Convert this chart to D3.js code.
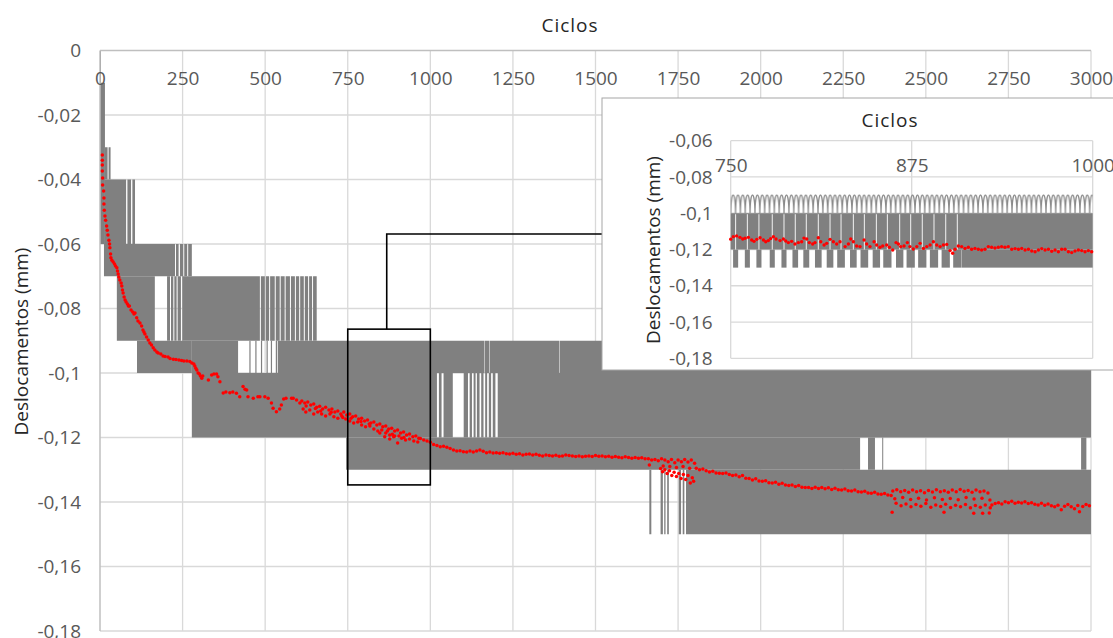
<!DOCTYPE html>
<html>
<head>
<meta charset="utf-8">
<script src="https://cdn.jsdelivr.net/npm/d3@7"></script>
<style>
  html, body { margin: 0; padding: 0; background: #fff; }
  svg { display: block; font-family: "Open Sans", Lato, sans-serif; }
</style>
</head>
<body>
<svg id="chart" width="1113" height="638"></svg>
<script>
// ---------------- tick values ----------------
const cycleTicks = [0, 250, 500, 750, 1000, 1250, 1500, 1750, 2000, 2250, 2500, 2750, 3000];
const displacementTicks = [0, -0.02, -0.04, -0.06, -0.08, -0.1, -0.12, -0.14, -0.16, -0.18];
const detailCycleTicks = [750, 875, 1000];
const detailDisplacementTicks = [-0.06, -0.08, -0.1, -0.12, -0.14, -0.16, -0.18];

// ---------------- raw LVDT trace (quantised to 0.01 mm) ----------------
// envelope swept by the oscillating signal: [first cycle, last cycle, upper level, lower level]
const traceBands = [
  [0, 3, 0, -0.01],
  [0, 15, -0.01, -0.06],
  [15, 32, -0.03, -0.04],
  [15, 106, -0.04, -0.06],
  [12, 278, -0.06, -0.07],
  [51, 656, -0.07, -0.09],
  [112, 278, -0.09, -0.10],
  [278, 3000, -0.09, -0.12],
  [745, 3000, -0.12, -0.13],
  [1663, 3000, -0.13, -0.15]
];
// stretches inside an envelope that the signal did not reach
const traceHoles = [
  [23, 26, -0.03, -0.04],
  [79, 83, -0.04, -0.06], [94, 98, -0.04, -0.06],
  [227, 230, -0.06, -0.07], [238, 242, -0.06, -0.07], [252, 255, -0.06, -0.07], [264, 267, -0.06, -0.07],
  [166, 203, -0.07, -0.09], [212, 215, -0.07, -0.09], [222, 225, -0.07, -0.09], [232, 235, -0.07, -0.09], [245, 249, -0.07, -0.09],
  [484, 487, -0.07, -0.09], [499, 502, -0.07, -0.09], [512, 515, -0.07, -0.09], [529, 532, -0.07, -0.09],
  [544, 547, -0.07, -0.09], [559, 562, -0.07, -0.09], [575, 578, -0.07, -0.09], [590, 593, -0.07, -0.09],
  [603, 606, -0.07, -0.09], [617, 620, -0.07, -0.09], [630, 633, -0.07, -0.09], [642, 645, -0.07, -0.09],
  [418, 538, -0.09, -0.10], [1164, 1165.5, -0.09, -0.10], [1178, 1179.5, -0.09, -0.10], [1390, 1391.5, -0.09, -0.10],
  [1020, 1026, -0.10, -0.12], [1034, 1040, -0.10, -0.12], [1068, 1101, -0.10, -0.12], [1114, 1119, -0.10, -0.12],
  [1126, 1131, -0.10, -0.12], [1137, 1141, -0.10, -0.12], [1149, 1154, -0.10, -0.12], [1161, 1166, -0.10, -0.12],
  [1172, 1177, -0.10, -0.12], [1184, 1189, -0.10, -0.12], [1197, 1204, -0.10, -0.12],
  [2301, 2325, -0.12, -0.13], [2346, 2368, -0.12, -0.13], [2371, 2970, -0.12, -0.13], [2986, 3000, -0.12, -0.13],
  [1669, 1697, -0.13, -0.15], [1704, 1708, -0.13, -0.15], [1712, 1717, -0.13, -0.15],
  [1722, 1752, -0.13, -0.15], [1759, 1764, -0.13, -0.15], [1769, 1774, -0.13, -0.15]
];
// single excursions crossing an unreached stretch: [cycle, upper level, lower level]
const traceStrokes = [
  [454, -0.09, -0.10], [472, -0.09, -0.10], [489, -0.09, -0.10],
  [506, -0.09, -0.10], [519, -0.09, -0.10], [534, -0.09, -0.10]
];

// ---------------- mean displacement per cycle [cycle, mm] ----------------
const meanEarly = [
  [7,-0.0324],[7,-0.0340],[7,-0.0355],[7,-0.0374],[8,-0.0395],[8,-0.0417],[11,-0.0436],[12,-0.0457],
  [12,-0.0476],[13,-0.0495],[15,-0.0513],[17,-0.0526],[20,-0.0544],[22,-0.0557],[24,-0.0572],[27,-0.0588],
  [29,-0.0600],[30,-0.0612],[32,-0.0631],[33,-0.0643],[36,-0.0650],[40,-0.0656],[44,-0.0662],[47,-0.0668],
  [51,-0.0674],[53,-0.0684],[55,-0.0693],[57,-0.0702],[60,-0.0712],[64,-0.0721],[66,-0.0730],[68,-0.0743],
  [70,-0.0752],[73,-0.0764],[76,-0.0774],[79,-0.0780],[83,-0.0786],[86,-0.0792],[89,-0.0792],[94,-0.0805],
  [99,-0.0811],[103,-0.0817],[106,-0.0814],[111,-0.0829],[115,-0.0839],[121,-0.0845],[126,-0.0854],[130,-0.0867],
  [133,-0.0873],[136,-0.0879],[141,-0.0888],[146,-0.0898],[151,-0.0907],[156,-0.0913],[161,-0.0922],[166,-0.0929],
  [172,-0.0935],[176,-0.0938],[184,-0.0941],[191,-0.0947],[197,-0.0949],[206,-0.0950],[212,-0.0955],[222,-0.0957],
  [230,-0.0958],[239,-0.0960],[247,-0.0961],[254,-0.0963],[263,-0.0963],[272,-0.0964],[278,-0.0969],[284,-0.0972],
  [287,-0.0978],[290,-0.0985],[293,-0.0991],[297,-0.1000],[301,-0.1003],[304,-0.1009],[308,-0.1016],[311,-0.1009],
  [328,-0.1022],[338,-0.1006],[345,-0.1003],[353,-0.1003],[357,-0.1012],[363,-0.1027],[373,-0.1062],[381,-0.1059],
  [393,-0.1061],[402,-0.1059],[413,-0.1063],[423,-0.1074],[433,-0.1042],[439,-0.1050],[444,-0.1053],[448,-0.1074],
  [464,-0.1078],[478,-0.1074],[484,-0.1074],[499,-0.1074],[509,-0.1078],[519,-0.1093],[524,-0.1109],[534,-0.1120],
  [544,-0.1112],[549,-0.1099],[556,-0.1081],[563,-0.1078],[580,-0.1078],[585,-0.1078],[595,-0.1084],[605,-0.1093]
];
const meanUpper = [
  [611,-0.1087],[620,-0.1093],[629,-0.1090],[638,-0.1099],[647,-0.1096],[656,-0.1106],[665,-0.1103],[674,-0.1112],
  [683,-0.1106],[693,-0.1115],[702,-0.1112],[711,-0.1121],[720,-0.1118],[729,-0.1127],[738,-0.1121],[747,-0.1130],
  [756,-0.1127],[765,-0.1136],[774,-0.1133],[783,-0.1143],[792,-0.1140],[801,-0.1149],[810,-0.1146],[820,-0.1155],
  [829,-0.1152],[838,-0.1161],[847,-0.1158],[856,-0.1167],[865,-0.1164],[874,-0.1174],[883,-0.1171],[892,-0.1180],
  [901,-0.1177],[910,-0.1186],[919,-0.1183],[928,-0.1192],[937,-0.1189],[947,-0.1198],[956,-0.1195],[965,-0.1202]
];
const meanLower = [
  [615,-0.1112],[623,-0.1121],[635,-0.1115],[647,-0.1127],[659,-0.1121],[671,-0.1127],[683,-0.1133],[696,-0.1127],
  [708,-0.1136],[720,-0.1140],[732,-0.1133],[744,-0.1143],[756,-0.1149],[768,-0.1155],[780,-0.1152],[792,-0.1161],
  [804,-0.1167],[817,-0.1164],[829,-0.1174],[841,-0.1180],[853,-0.1177],[865,-0.1186],[877,-0.1192],[889,-0.1198],
  [901,-0.1217],[913,-0.1202],[925,-0.1208],[937,-0.1205],[950,-0.1211],[962,-0.1214],
  [624,-0.1102],[652,-0.1110],[668,-0.1118],[700,-0.1122],[735,-0.1138],[760,-0.1140],[790,-0.1150],[815,-0.1158],
  [847,-0.1186],[862,-0.1198],[870,-0.1180],[877,-0.1205],[885,-0.1190],[892,-0.1195],[905,-0.1195],[920,-0.1200]
];
const meanMiddle = [
  [970,-0.1203],[980,-0.1208],[990,-0.1211],[1000,-0.1215],[1010,-0.1222],[1020,-0.1225],[1030,-0.1229],[1040,-0.1227],
  [1050,-0.1230],[1060,-0.1234],[1070,-0.1239],[1080,-0.1242],[1090,-0.1241],[1100,-0.1244],[1110,-0.1245],[1120,-0.1242],
  [1130,-0.1245],[1140,-0.1242],[1150,-0.1239],[1160,-0.1243],[1170,-0.1247],[1180,-0.1245],[1190,-0.1248],[1200,-0.1247],
  [1210,-0.1249],[1220,-0.1247],[1230,-0.1250],[1240,-0.1251],[1250,-0.1249],[1260,-0.1252],[1270,-0.1250],[1280,-0.1254],
  [1290,-0.1252],[1300,-0.1251],[1310,-0.1254],[1320,-0.1252],[1330,-0.1255],[1340,-0.1257],[1350,-0.1254],[1360,-0.1256],
  [1370,-0.1257],[1380,-0.1255],[1390,-0.1258],[1400,-0.1257],[1410,-0.1254],[1420,-0.1256],[1430,-0.1257],[1440,-0.1259],
  [1450,-0.1257],[1460,-0.1260],[1470,-0.1258],[1480,-0.1257],[1490,-0.1259],[1500,-0.1256],[1510,-0.1258],[1520,-0.1257],
  [1530,-0.1260],[1540,-0.1258],[1550,-0.1261],[1560,-0.1259],[1570,-0.1261],[1580,-0.1263],[1590,-0.1260],[1600,-0.1262],
  [1610,-0.1264],[1620,-0.1262],[1630,-0.1264],[1640,-0.1263],[1650,-0.1266],[1660,-0.1266],[1670,-0.1270]
];
const meanShift = [
  [1680,-0.1268],[1690,-0.1272],[1700,-0.1266],[1710,-0.1270],[1720,-0.1275],[1730,-0.1268],[1740,-0.1278],[1750,-0.1270],
  [1760,-0.1275],[1770,-0.1268],[1780,-0.1276],[1790,-0.1270],[1800,-0.1280],
  [1663,-0.1285],[1697,-0.1296],[1703,-0.1306],[1710,-0.1300],[1717,-0.1312],[1724,-0.1303],[1731,-0.1318],[1738,-0.1308],
  [1745,-0.1321],[1752,-0.1312],[1759,-0.1327],[1766,-0.1315],[1773,-0.1330],[1780,-0.1318],[1787,-0.1341],[1793,-0.1325],
  [1797,-0.1336],[1705,-0.1288],[1725,-0.1290],[1745,-0.1293],[1765,-0.1290],[1785,-0.1295]
];
const meanLate = [
  [1805,-0.1295],[1815,-0.1300],[1825,-0.1298],[1835,-0.1303],[1845,-0.1307],[1855,-0.1305],[1865,-0.1310],[1875,-0.1311],
  [1885,-0.1312],[1895,-0.1310],[1905,-0.1315],[1915,-0.1318],[1925,-0.1316],[1935,-0.1322],[1945,-0.1318],[1955,-0.1326],
  [1965,-0.1327],[1975,-0.1332],[1985,-0.1328],[1995,-0.1335],[2005,-0.1336],[2015,-0.1334],[2025,-0.1340],[2035,-0.1341],
  [2045,-0.1339],[2055,-0.1345],[2065,-0.1342],[2075,-0.1347],[2085,-0.1349],[2095,-0.1347],[2105,-0.1352],[2115,-0.1349],
  [2125,-0.1354],[2135,-0.1355],[2145,-0.1355],[2155,-0.1358],[2165,-0.1354],[2175,-0.1358],[2185,-0.1355],[2195,-0.1359],
  [2205,-0.1356],[2215,-0.1361],[2225,-0.1357],[2235,-0.1362],[2245,-0.1363],[2255,-0.1360],[2265,-0.1365],[2275,-0.1366],
  [2285,-0.1363],[2295,-0.1368],[2305,-0.1369],[2315,-0.1367],[2325,-0.1372],[2335,-0.1373],[2345,-0.1370],[2355,-0.1375],
  [2365,-0.1376],[2375,-0.1374],[2385,-0.1378],[2395,-0.1380]
];
const meanPlateau = [
  [2400,-0.1366],[2412,-0.1362],[2424,-0.1368],[2436,-0.1364],[2448,-0.1370],[2460,-0.1363],[2472,-0.1368],[2484,-0.1365],
  [2496,-0.1371],[2508,-0.1364],[2520,-0.1369],[2532,-0.1362],[2544,-0.1368],[2556,-0.1365],[2568,-0.1370],[2580,-0.1363],
  [2592,-0.1368],[2604,-0.1361],[2616,-0.1367],[2628,-0.1364],[2640,-0.1370],[2652,-0.1363],[2664,-0.1368],[2676,-0.1366],
  [2688,-0.1372],
  [2406,-0.1390],[2430,-0.1386],[2454,-0.1392],[2478,-0.1388],[2502,-0.1394],[2526,-0.1387],[2550,-0.1392],[2574,-0.1389],
  [2598,-0.1393],[2622,-0.1386],[2646,-0.1391],[2670,-0.1388],[2694,-0.1394],
  [2398,-0.1432],[2410,-0.1404],[2425,-0.1412],[2440,-0.1406],[2455,-0.1415],[2470,-0.1408],[2485,-0.1413],[2500,-0.1405],
  [2515,-0.1416],[2530,-0.1409],[2545,-0.1414],[2555,-0.1432],[2560,-0.1407],[2575,-0.1417],[2590,-0.1410],[2605,-0.1415],
  [2620,-0.1408],[2635,-0.1418],[2645,-0.1435],[2650,-0.1411],[2665,-0.1416],[2672,-0.1435],[2680,-0.1409],[2692,-0.1434],
  [2695,-0.1418]
];
const meanEnd = [
  [2700,-0.1409],[2710,-0.1405],[2720,-0.1402],[2730,-0.1406],[2740,-0.1399],[2750,-0.1402],[2760,-0.1398],[2770,-0.1404],
  [2780,-0.1401],[2790,-0.1403],[2800,-0.1399],[2810,-0.1405],[2820,-0.1402],[2830,-0.1407],[2840,-0.1409],[2850,-0.1404],
  [2860,-0.1410],[2870,-0.1406],[2880,-0.1412],[2890,-0.1415],[2900,-0.1410],[2910,-0.1424],[2920,-0.1413],[2930,-0.1408],
  [2940,-0.1415],[2950,-0.1421],[2960,-0.1411],[2965,-0.1430],[2975,-0.1414],[2985,-0.1408],[2995,-0.1412]
];

// ---------------- detail window 750-1000 cycles ----------------
const detailBands = [[750, 1000, -0.10, -0.12], [909.5, 1000, -0.12, -0.13]];
const detailCrestBand = [750, 1000, -0.09, -0.10];
const crestPeriod = 3.35; // cycles between successive crests of the trace
const detailDips = [753.4, 761.5, 769.5, 778.7, 786.8, 794.6, 802.2, 810.5, 818.6, 826.2,
                    834.7, 842.3, 850.6, 858.2, 866.7, 874.3, 882.3, 890.4, 898.5, 906.5];
const detailDipWidths = [3.5, 3.5, 3.5, 3.5, 3.5, 3.9, 4.1, 4.6, 4.6, 5.3,
                         4.6, 5.3, 5.1, 5.7, 5.1, 5.7, 5.7, 5.7, 5.7, 5.7];
const detailDipLevels = [-0.12, -0.13];
const detailMean = [
  [750.0,-0.1143],[751.8,-0.1129],[754.1,-0.1125],[756.4,-0.1133],[758.3,-0.1142],[759.9,-0.1138],[762.2,-0.1133],[764.5,-0.1148],
  [766.1,-0.1155],[768.0,-0.1144],[770.3,-0.1135],[772.6,-0.1148],[774.2,-0.1157],[776.0,-0.1151],[777.6,-0.1140],[779.5,-0.1129],
  [781.3,-0.1142],[784.1,-0.1151],[786.4,-0.1142],[788.0,-0.1153],[789.8,-0.1162],[792.1,-0.1155],[794.4,-0.1170],[796.7,-0.1162],
  [799.0,-0.1157],[800.6,-0.1137],[802.5,-0.1142],[804.3,-0.1162],[806.6,-0.1170],[808.2,-0.1162],[810.5,-0.1135],[812.2,-0.1157],
  [814.5,-0.1175],[816.3,-0.1166],[818.6,-0.1144],[820.9,-0.1157],[823.2,-0.1170],[825.5,-0.1157],[829.0,-0.1184],[831.3,-0.1170],
  [832.9,-0.1142],[834.7,-0.1157],[837.0,-0.1181],[839.3,-0.1184],[842.1,-0.1148],[843.9,-0.1170],[846.2,-0.1184],[849.0,-0.1157],
  [850.8,-0.1175],[853.1,-0.1188],[855.0,-0.1181],[857.7,-0.1175],[859.6,-0.1188],[861.9,-0.1203],[864.2,-0.1162],[865.8,-0.1170],
  [867.4,-0.1184],[869.7,-0.1181],[872.0,-0.1162],[873.8,-0.1184],[876.1,-0.1197],[878.5,-0.1184],[880.8,-0.1166],[883.1,-0.1194],
  [885.4,-0.1184],[887.7,-0.1175],[890.0,-0.1157],[892.3,-0.1175],[894.6,-0.1184],[896.9,-0.1175],[899.2,-0.1172],[901.5,-0.1206],
  [903.3,-0.1221],[904.9,-0.1199],[907.2,-0.1181],[909.5,-0.1184],[911.8,-0.1194],[914.1,-0.1188],[916.4,-0.1199],[918.7,-0.1194],
  [921.0,-0.1199],[923.3,-0.1203],[925.6,-0.1199],[927.9,-0.1184],[930.2,-0.1188],[932.5,-0.1192],[934.8,-0.1188],[937.1,-0.1184],
  [939.4,-0.1188],[941.7,-0.1184],[944.1,-0.1199],[946.4,-0.1195],[948.7,-0.1199],[951.0,-0.1194],[953.3,-0.1203],[955.6,-0.1199],
  [957.9,-0.1208],[960.2,-0.1212],[962.5,-0.1203],[964.8,-0.1195],[967.1,-0.1203],[969.4,-0.1199],[971.7,-0.1210],[974.0,-0.1203],
  [976.3,-0.1212],[978.6,-0.1199],[980.9,-0.1199],[983.2,-0.1212],[985.5,-0.1217],[987.8,-0.1208],[990.1,-0.1203],[992.4,-0.1206],
  [994.7,-0.1212],[997.0,-0.1206],[999.3,-0.1212]
];

// window marked on the main plot and its leader line
const windowCycles = [750, 1000];
const windowLevels = [-0.0864, -0.1347];
const leaderCycle = 868;
const leaderLevel = -0.0569;

// ---------------- drawing ----------------
const TRACE = "#808080", MEAN = "#ff0000", GRID = "#d9d9d9", AXIS = "#bfbfbf";
const TICK_TXT = "#595959", TITLE_TXT = "#262626", FS = 19;
const FONT = "'Open Sans', Lato, sans-serif";

const svg = d3.select("#chart");
const locale = d3.formatLocale({ decimal: ",", thousands: ".", grouping: [3], currency: ["", ""], minus: "-" });
const fmtMm = locale.format(".2~f");

const x = d3.scaleLinear().domain([0, 3000]).range([100, 1091]);
const y = d3.scaleLinear().domain([0, -0.18]).range([50.5, 631]);

// grid
const grid = svg.append("g").attr("stroke", GRID).attr("stroke-width", 1.3);
grid.selectAll(null).data(cycleTicks.slice(1)).join("line")
  .attr("x1", d => x(d)).attr("x2", d => x(d)).attr("y1", y(0)).attr("y2", y(-0.18));
grid.selectAll(null).data(displacementTicks.slice(1)).join("line")
  .attr("x1", x(0)).attr("x2", x(3000)).attr("y1", d => y(d)).attr("y2", d => y(d));

// trace envelope with the unreached stretches cut out
function envelopePath(xs, ys, band, holes) {
  const p = d3.path();
  const add = (c0, c1, top, bot) => p.rect(xs(c0), ys(top), xs(c1) - xs(c0), ys(bot) - ys(top));
  add(...band);
  holes.filter(h => h[0] >= band[0] && h[1] <= band[1] && h[2] <= band[2] && h[3] >= band[3])
       .forEach(h => add(...h));
  return p.toString();
}
const traceG = svg.append("g").attr("fill", TRACE);
traceG.selectAll("path").data(traceBands).join("path")
  .attr("fill-rule", "evenodd")
  .attr("d", b => envelopePath(x, y, b, traceHoles));
svg.append("g").attr("stroke", TRACE).attr("stroke-width", 1.2)
  .selectAll("line").data(traceStrokes).join("line")
  .attr("x1", d => x(d[0])).attr("x2", d => x(d[0])).attr("y1", d => y(d[1])).attr("y2", d => y(d[2]));

// axis lines
svg.append("line").attr("x1", x(0)).attr("x2", x(3000)).attr("y1", y(0)).attr("y2", y(0))
  .attr("stroke", AXIS).attr("stroke-width", 1.5);
svg.append("line").attr("x1", x(0)).attr("x2", x(0)).attr("y1", y(0)).attr("y2", y(-0.18))
  .attr("stroke", AXIS).attr("stroke-width", 1.5);

// mean displacement markers
const meanAll = [].concat(meanEarly, meanUpper, meanLower, meanMiddle, meanShift, meanLate, meanPlateau, meanEnd);
svg.append("g").attr("fill", MEAN).selectAll("circle").data(meanAll).join("circle")
  .attr("cx", d => x(d[0])).attr("cy", d => y(d[1])).attr("r", 1.75);

// tick labels
const xAxis = svg.append("g").attr("transform", `translate(0,${y(0)})`)
  .call(d3.axisBottom(x).tickValues(cycleTicks).tickSize(0).tickPadding(21).tickFormat(d3.format("d")));
const yAxis = svg.append("g").attr("transform", `translate(${x(0)},0)`)
  .call(d3.axisLeft(y).tickValues(displacementTicks).tickSize(0).tickPadding(19).tickFormat(fmtMm));
[xAxis, yAxis].forEach(a => {
  a.select(".domain").remove();
  a.selectAll("text").attr("fill", TICK_TXT).attr("font-size", FS).attr("font-family", FONT);
});

// titles
svg.append("text").attr("x", 570).attr("y", 32).attr("text-anchor", "middle").attr("letter-spacing", 1)
  .attr("font-size", FS).attr("fill", TITLE_TXT).text("Ciclos");
svg.append("text").attr("transform", "translate(28,341.5) rotate(-90)").attr("text-anchor", "middle")
  .attr("font-size", FS).attr("fill", TITLE_TXT).text("Deslocamentos (mm)");

// window and leader line
const panel = { left: 602, top: 98, width: 530, height: 272 };
svg.append("rect")
  .attr("x", x(windowCycles[0])).attr("y", y(windowLevels[0]))
  .attr("width", x(windowCycles[1]) - x(windowCycles[0])).attr("height", y(windowLevels[1]) - y(windowLevels[0]))
  .attr("fill", "none").attr("stroke", "#000").attr("stroke-width", 1.6);
svg.append("path")
  .attr("d", d3.line()([[x(leaderCycle), y(windowLevels[0])], [x(leaderCycle), y(leaderLevel)], [panel.left, y(leaderLevel)]]))
  .attr("fill", "none").attr("stroke", "#000").attr("stroke-width", 1.6);

// ---------------- detail panel ----------------
const inset = svg.append("g");
inset.append("rect").attr("x", panel.left).attr("y", panel.top).attr("width", panel.width).attr("height", panel.height)
  .attr("fill", "#fff").attr("stroke", "#a6a6a6").attr("stroke-width", 1);

const xi = d3.scaleLinear().domain([750, 1000]).range([730.7, 1092.7]);
const yi = d3.scaleLinear().domain([-0.06, -0.18]).range([140.7, 358.3]);

const igrid = inset.append("g").attr("stroke", GRID).attr("stroke-width", 1.3);
igrid.selectAll(null).data(detailCycleTicks).join("line")
  .attr("x1", d => xi(d)).attr("x2", d => xi(d)).attr("y1", yi(-0.06)).attr("y2", yi(-0.18));
igrid.selectAll(null).data(detailDisplacementTicks).join("line")
  .attr("x1", xi(750)).attr("x2", xi(1000)).attr("y1", d => yi(d)).attr("y2", d => yi(d));

// crest texture of the trace
const cw = xi(750 + crestPeriod) - xi(750);
const ch = yi(detailCrestBand[3]) - yi(detailCrestBand[2]);
const defs = svg.append("defs");
const pat = defs.append("pattern").attr("id", "crests").attr("patternUnits", "userSpaceOnUse")
  .attr("x", xi(detailCrestBand[0])).attr("y", yi(detailCrestBand[2]) - 1)
  .attr("width", cw).attr("height", ch + 2);
pat.append("path")
  .attr("d", `M0,${ch + 1} C${cw * 0.04},${1 - ch * 0.333} ${cw * 0.96},${1 - ch * 0.333} ${cw},${ch + 1}`)
  .attr("fill", "none").attr("stroke", "#8a8a8a").attr("stroke-width", 1.3);
inset.append("rect")
  .attr("x", xi(detailCrestBand[0])).attr("y", yi(detailCrestBand[2]) - 1)
  .attr("width", xi(detailCrestBand[1]) - xi(detailCrestBand[0])).attr("height", ch + 1)
  .attr("fill", "url(#crests)");

inset.append("g").attr("fill", TRACE).selectAll("rect").data(detailBands).join("rect")
  .attr("x", d => xi(d[0])).attr("y", d => yi(d[2]))
  .attr("width", d => xi(d[1]) - xi(d[0])).attr("height", d => yi(d[3]) - yi(d[2]));
inset.append("g").attr("fill", TRACE).selectAll("rect").data(detailDips).join("rect")
  .attr("x", (d, i) => xi(d - detailDipWidths[i] / 2)).attr("y", yi(detailDipLevels[0]))
  .attr("width", (d, i) => xi(d + detailDipWidths[i] / 2) - xi(d - detailDipWidths[i] / 2))
  .attr("height", yi(detailDipLevels[1]) - yi(detailDipLevels[0]));
inset.append("g").attr("stroke", "#f2f2f2").attr("stroke-width", 1).selectAll("line").data(detailDips).join("line")
  .attr("x1", d => xi(d)).attr("x2", d => xi(d)).attr("y1", yi(-0.10) + 1).attr("y2", yi(-0.12));

inset.append("g").attr("fill", MEAN).selectAll("circle").data(detailMean).join("circle")
  .attr("cx", d => xi(d[0])).attr("cy", d => yi(d[1])).attr("r", 1.7);

const ixAxis = inset.append("g").attr("transform", `translate(0,${yi(-0.06)})`)
  .call(d3.axisBottom(xi).tickValues(detailCycleTicks).tickSize(0).tickPadding(18).tickFormat(d3.format("d")));
const iyAxis = inset.append("g").attr("transform", `translate(${xi(750)},0)`)
  .call(d3.axisLeft(yi).tickValues(detailDisplacementTicks).tickSize(0).tickPadding(18).tickFormat(fmtMm));
[ixAxis, iyAxis].forEach(a => {
  a.select(".domain").remove();
  a.selectAll("text").attr("fill", TICK_TXT).attr("font-size", FS).attr("font-family", FONT);
});
inset.append("text").attr("x", 890).attr("y", 127).attr("text-anchor", "middle").attr("letter-spacing", 1)
  .attr("font-size", FS).attr("fill", TITLE_TXT).text("Ciclos");
inset.append("text").attr("transform", "translate(660,250) rotate(-90)").attr("text-anchor", "middle")
  .attr("font-size", FS).attr("fill", TITLE_TXT).text("Deslocamentos (mm)");
</script>
</body>
</html>
